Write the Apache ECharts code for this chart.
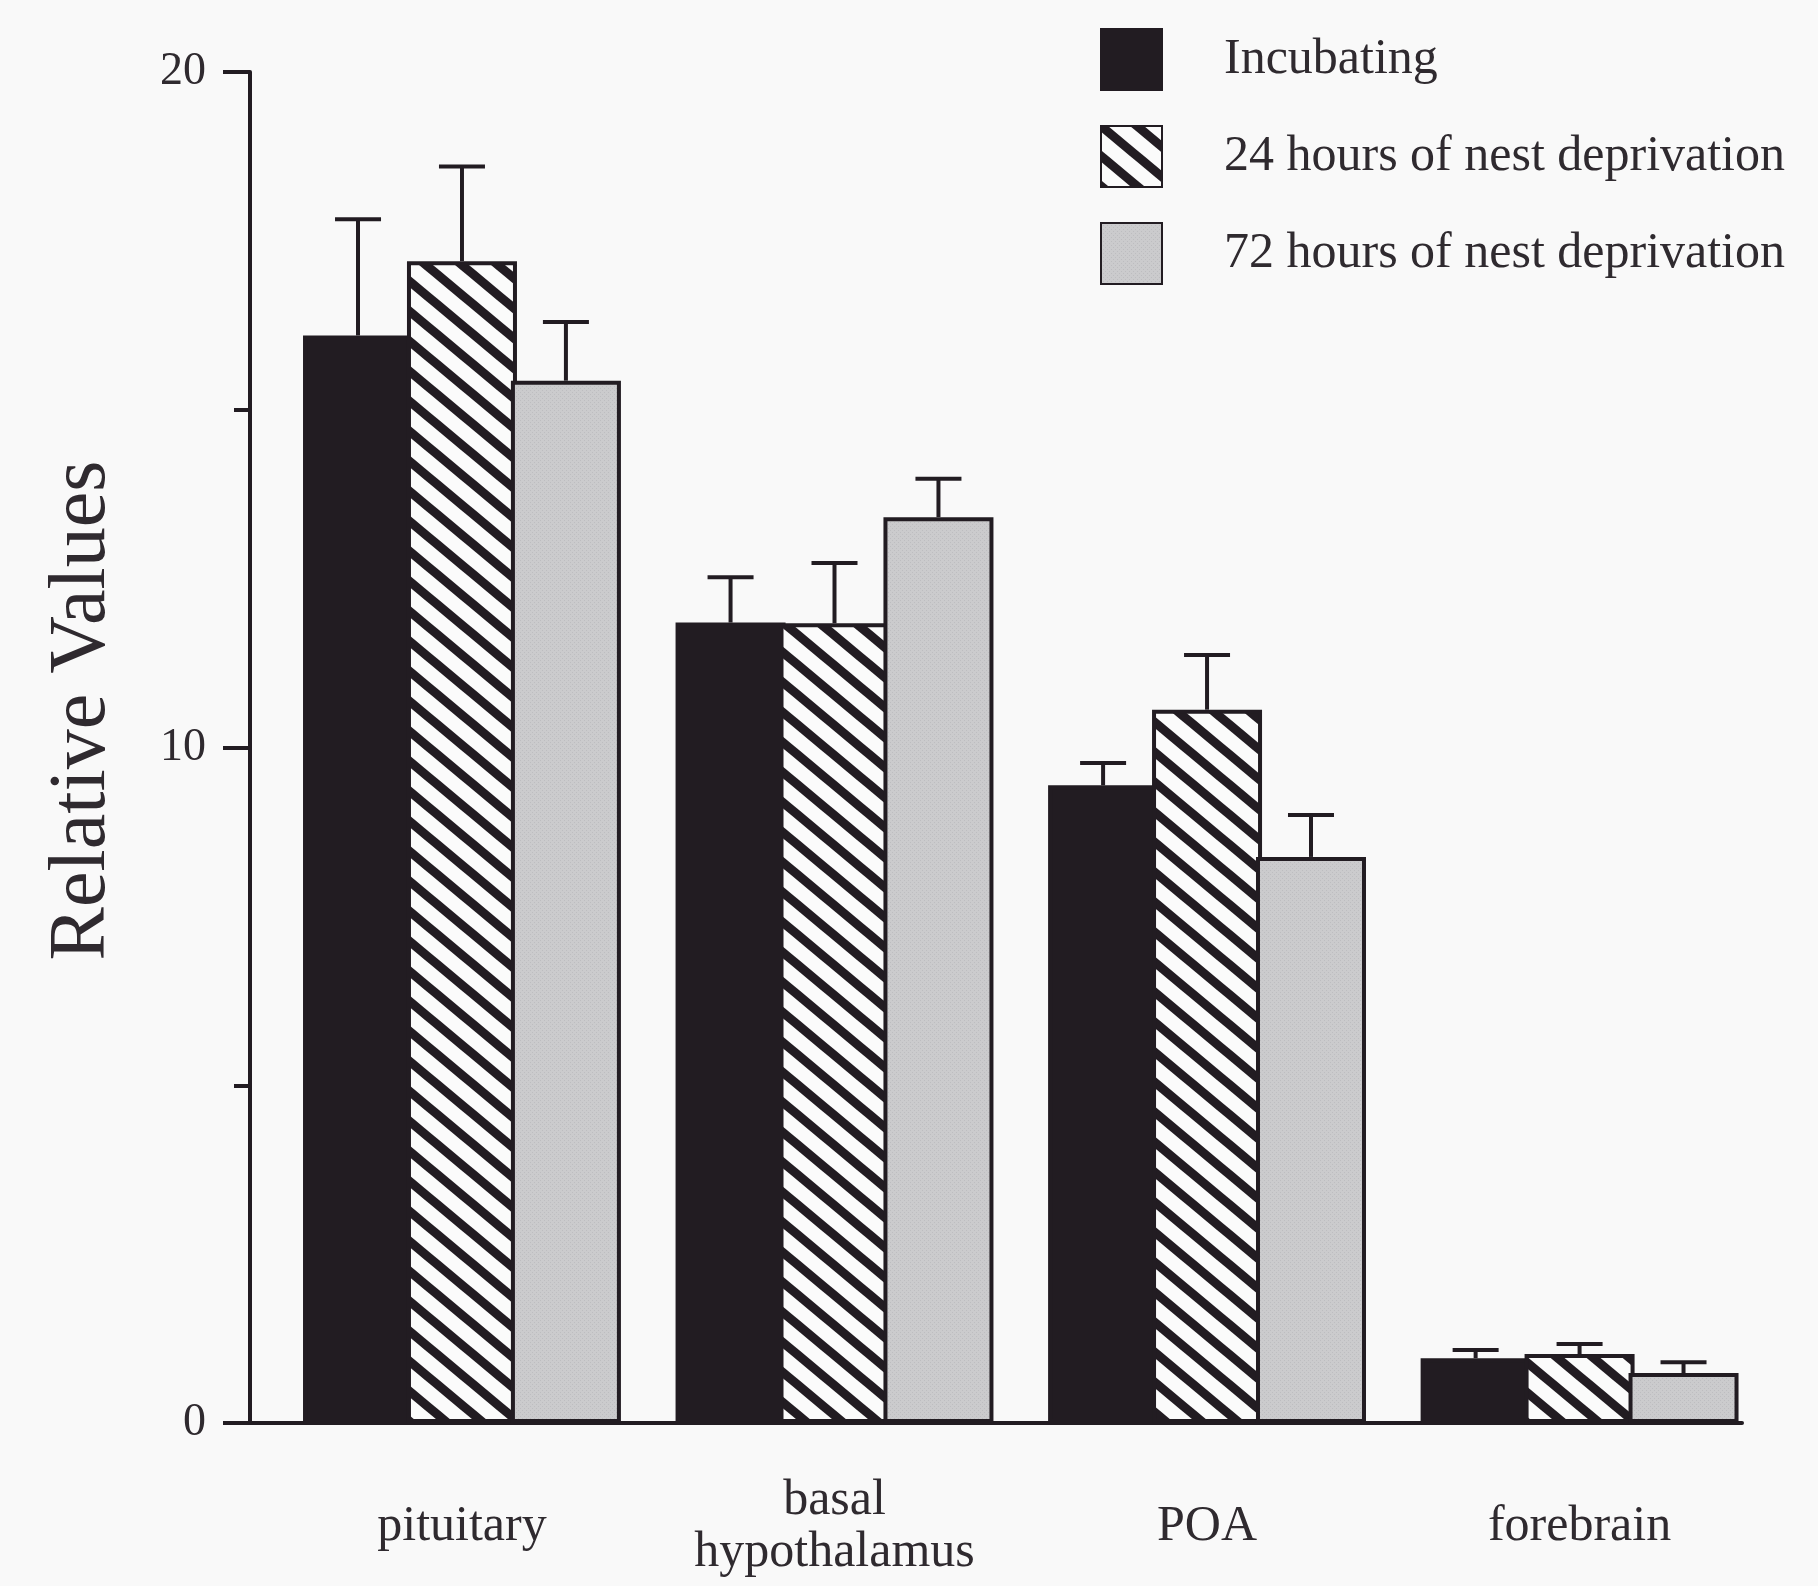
<!DOCTYPE html>
<html>
<head>
<meta charset="utf-8">
<title>Relative Values by brain region</title>
<script src="https://cdn.jsdelivr.net/npm/echarts@6/dist/echarts.min.js"></script>
<style>
  html, body { margin: 0; padding: 0; background: #f9f9f9; }
  #chart { width: 1818px; height: 1586px; }
</style>
</head>
<body>
<div id="chart"></div>
<script>
// Regions along the x axis
const categories = ['pituitary', 'basal\nhypothalamus', 'POA', 'forebrain'];

// Group names
const seriesNames = ['Incubating', '24 hours of nest deprivation', '72 hours of nest deprivation'];

// Means
const incubating = [16.1, 11.85, 9.44, 0.96];
const nest24 = [17.2, 11.84, 10.56, 1.02];
const nest72 = [15.43, 13.41, 8.38, 0.74];

// Standard errors (drawn upward only)
const incubatingErr = [1.72, 0.67, 0.33, 0.12];
const nest24Err = [1.4, 0.89, 0.81, 0.15];
const nest72Err = [0.87, 0.57, 0.62, 0.16];

// Y axis ticks
const yTicks = [0, 10, 20];

const INK = '#221c22';
const TEXT = '#2f2a2f';
const FONT = '"Liberation Serif", "DejaVu Serif", serif';
const BAR_W = 110;
const BAR_GAP = -0.055;

// Diagonal "\" hatching tile
function hatchTile() {
  const W = 36, H = 30;
  const c = document.createElement('canvas');
  c.width = W; c.height = H;
  const g = c.getContext('2d');
  g.fillStyle = '#fbfbfb';
  g.fillRect(0, 0, W, H);
  g.strokeStyle = INK;
  g.lineWidth = 9;
  for (let k = -1; k <= 1; k++) {
    g.beginPath();
    g.moveTo(-W, k * H - H);
    g.lineTo(2 * W, k * H + 2 * H);
    g.stroke();
  }
  return c;
}

// Fine screened grey tile
function greyTile() {
  const c = document.createElement('canvas');
  c.width = 4; c.height = 4;
  const g = c.getContext('2d');
  g.fillStyle = '#cbcbcd';
  g.fillRect(0, 0, 4, 4);
  g.fillStyle = '#bdbdc0';
  g.fillRect(0, 0, 1, 1);
  g.fillRect(2, 2, 1, 1);
  return c;
}

const fills = [
  INK,
  { image: hatchTile(), repeat: 'repeat' },
  { image: greyTile(), repeat: 'repeat' }
];
const means = [incubating, nest24, nest72];
const errs = [incubatingErr, nest24Err, nest72Err];

// Horizontal offset of each bar inside its group
const step = BAR_W * (1 + BAR_GAP);
const offsets = [-step, 0, step];

const barSeries = seriesNames.map((name, s) => ({
  name: name,
  type: 'bar',
  barWidth: BAR_W,
  barGap: (BAR_GAP * 100) + '%',
  data: means[s].map((v, i) => [i, v]),
  itemStyle: { color: fills[s], borderColor: INK, borderWidth: 4 },
  z: 2
}));

const errorSeries = seriesNames.map((name, s) => ({
  name: name + ' SE',
  type: 'custom',
  z: 3,
  data: means[s].map((v, i) => [i, v, errs[s][i]]),
  renderItem: function (params, api) {
    const i = api.value(0);
    const v = api.value(1);
    const e = api.value(2);
    const base = api.coord([i, v]);
    const top = api.coord([i, v + e]);
    const x = base[0] + offsets[s];
    const style = { stroke: INK, lineWidth: 4 };
    return {
      type: 'group',
      children: [
        { type: 'line', shape: { x1: x, y1: base[1], x2: x, y2: top[1] }, style: style },
        { type: 'line', shape: { x1: x - 23, y1: top[1], x2: x + 23, y2: top[1] }, style: style }
      ]
    };
  }
}));

const chart = echarts.init(document.getElementById('chart'), null, { renderer: 'canvas' });

chart.setOption({
  backgroundColor: '#f9f9f9',
  animation: false,
  textStyle: { fontFamily: FONT, color: TEXT },
  grid: { left: 250, right: 76, top: 72, bottom: 163, containLabel: false },
  legend: {
    data: seriesNames,
    orient: 'vertical',
    left: 1095,
    top: 23,
    itemWidth: 61,
    itemHeight: 61,
    itemGap: 34,
    icon: 'rect',
    textStyle: { fontFamily: FONT, fontSize: 50, color: TEXT, padding: [0, 0, 0, 57] },
    selectedMode: false
  },
  xAxis: {
    type: 'value',
    min: -0.569,
    max: 3.436,
    axisLine: { show: true, onZero: false, lineStyle: { color: INK, width: 4 } },
    axisTick: { show: false },
    splitLine: { show: false },
    axisLabel: {
      customValues: categories.map((c, i) => i),
      formatter: v => categories[Math.round(v)],
      fontFamily: FONT,
      fontSize: 50,
      lineHeight: 52,
      color: TEXT,
      margin: 104,
      verticalAlign: 'middle',
      align: 'center'
    }
  },
  yAxis: {
    type: 'value',
    min: yTicks[0],
    max: yTicks[yTicks.length - 1],
    interval: yTicks[1] - yTicks[0],
    name: 'Relative Values',
    nameLocation: 'middle',
    nameRotate: 90,
    nameGap: 127,
    nameTextStyle: { fontFamily: FONT, fontSize: 80, color: TEXT, padding: [0, 0, 0, 74] },
    axisLine: { show: true, onZero: false, lineStyle: { color: INK, width: 4 } },
    axisTick: { show: true, length: 27, lineStyle: { color: INK, width: 4 } },
    minorTick: { show: true, splitNumber: 2, length: 16, lineStyle: { color: INK, width: 4 } },
    splitLine: { show: false },
    minorSplitLine: { show: false },
    axisLabel: { fontFamily: FONT, fontSize: 46, color: TEXT, margin: 44 }
  },
  series: barSeries.concat(errorSeries)
});
</script>
</body>
</html>
